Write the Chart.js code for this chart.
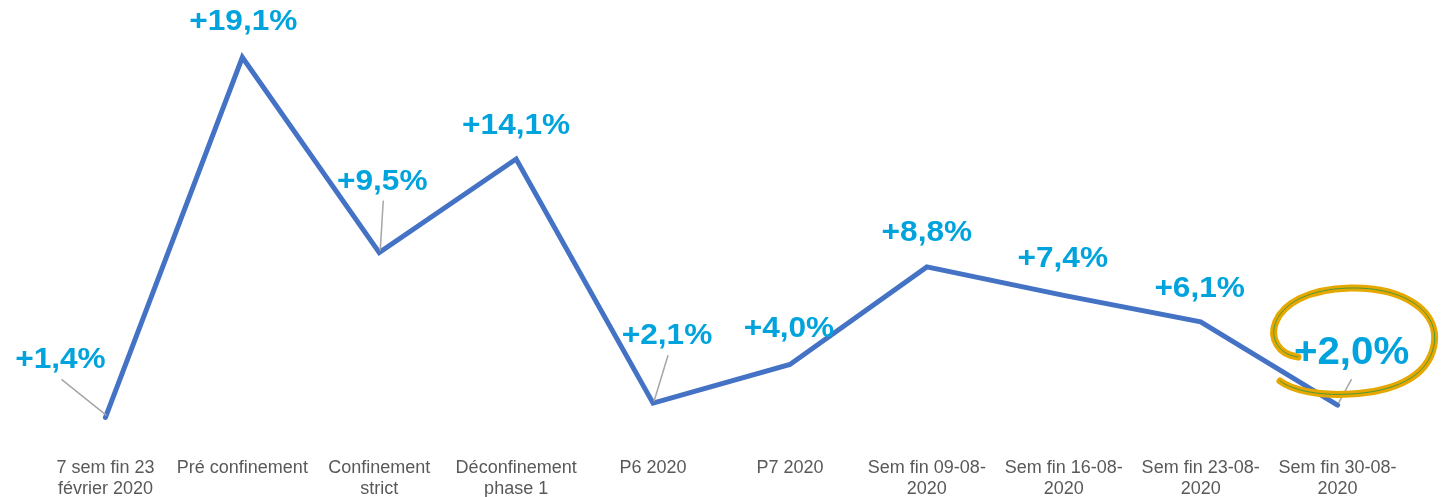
<!DOCTYPE html>
<html>
<head>
<meta charset="utf-8">
<script src="https://cdn.jsdelivr.net/npm/chart.js@4/dist/chart.umd.min.js"></script>
<style>
  html, body { margin: 0; padding: 0; background: #fff; }
  #wrap { width: 1448px; height: 497px; }
</style>
</head>
<body>
<div id="wrap"><canvas id="chart" width="1448" height="497"></canvas></div>
<script>
const categories = [
  ["7 sem fin 23", "février 2020"],
  "Pré confinement",
  ["Confinement", "strict"],
  ["Déconfinement", "phase 1"],
  "P6 2020",
  "P7 2020",
  ["Sem fin 09-08-", "2020"],
  ["Sem fin 16-08-", "2020"],
  ["Sem fin 23-08-", "2020"],
  ["Sem fin 30-08-", "2020"]
];
const growth = [1.4, 19.1, 9.5, 14.1, 2.1, 4.0, 8.8, 7.4, 6.1, 2.0];

// label placement relative to the point (dx, dy), and leader lines
const labelOffsets = [[-45, -57], [1, -35], [3, -71], [0, -33], [14, -67], [-1, -36], [0, -34], [-1, -36], [-1, -33], [14, -52]];
const leaders = [true, false, true, false, true, false, false, false, false, true];

const labelColor = "#00a3dc";
const lineColor = "#4472c4";

const fmt = v => "+" + v.toFixed(1).replace(".", ",") + "%";

const labelsPlugin = {
  id: "pctLabels",
  afterDatasetsDraw(chart) {
    const ctx = chart.ctx;
    const meta = chart.getDatasetMeta(0);
    meta.data.forEach((pt, i) => {
      const [dx, dy] = labelOffsets[i];
      const lx = pt.x + dx, ly = pt.y + dy;
      const big = i === growth.length - 1;
      if (leaders[i]) {
        ctx.save();
        ctx.strokeStyle = "#a6a6a6";
        ctx.lineWidth = 1.5;
        ctx.beginPath();
        ctx.moveTo(lx + (big ? 0 : 1), ly + (big ? 26 : 19));
        ctx.lineTo(pt.x + 1, pt.y - 2);
        ctx.stroke();
        ctx.restore();
      }
      ctx.save();
      ctx.translate(lx, ly);
      ctx.scale(big ? 1.06 : 1.09, 1);
      ctx.fillStyle = labelColor;
      ctx.font = "bold " + (big ? 38 : 29) + "px 'Liberation Sans', Arial, sans-serif";
      ctx.textAlign = "center";
      ctx.textBaseline = "middle";
      ctx.fillText(fmt(growth[i]), 0, 0);
      ctx.restore();
    });

    // hand drawn circle around the last value
    ctx.save();
    ctx.lineCap = "round";
    const loop = () => {
      ctx.beginPath();
      ctx.moveTo(1298, 357);
      ctx.bezierCurveTo(1258, 352, 1262, 290, 1350, 288);
      ctx.bezierCurveTo(1405, 287, 1440, 312, 1434, 345);
      ctx.bezierCurveTo(1428, 378, 1392, 392, 1350, 394);
      ctx.bezierCurveTo(1318, 396, 1292, 390, 1280, 381);
    };
    ctx.strokeStyle = "#e6a800";
    ctx.lineWidth = 7;
    loop();
    ctx.stroke();
    ctx.strokeStyle = "#4a9a3a";
    ctx.lineWidth = 1;
    loop();
    ctx.stroke();
    ctx.restore();
  }
};

new Chart(document.getElementById("chart"), {
  type: "line",
  data: {
    labels: categories,
    datasets: [{
      data: growth,
      borderColor: lineColor,
      borderWidth: 5,
      tension: 0,
      pointRadius: 0,
      pointHoverRadius: 0,
      borderCapStyle: "round",
      borderJoinStyle: "miter"
    }]
  },
  options: {
    responsive: false,
    animation: false,
    layout: { padding: { left: 37, right: 42, top: 39, bottom: -15 } },
    plugins: { legend: { display: false }, tooltip: { enabled: false } },
    scales: {
      x: {
        offset: true,
        grid: { display: false, drawTicks: false },
        border: { display: false },
        ticks: {
          color: "#595959",
          padding: 12,
          maxRotation: 0,
          autoSkip: false,
          font: { family: "'Liberation Sans', Arial, sans-serif", size: 18, lineHeight: 1.17 }
        }
      },
      y: { display: false, min: 0, max: 20 }
    }
  },
  plugins: [labelsPlugin]
});
</script>
</body>
</html>
